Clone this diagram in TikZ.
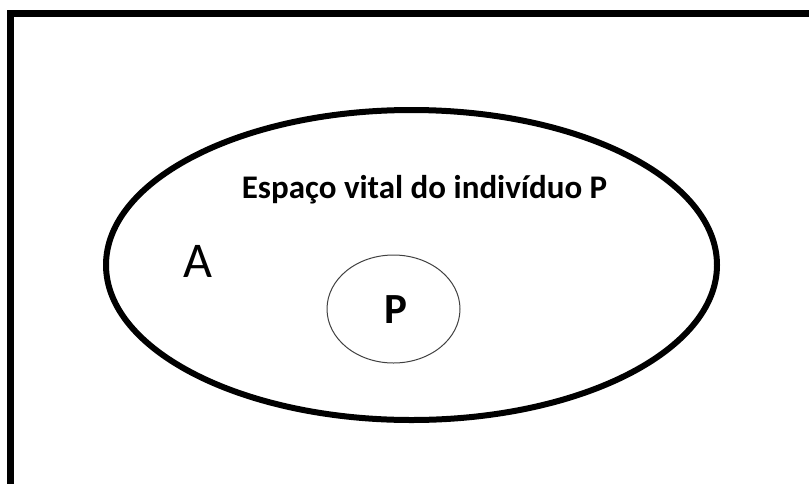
\documentclass[tikz,border=0pt]{standalone}
\usepackage{fontspec}
\setmainfont{Carlito}
\begin{document}
\begin{tikzpicture}[x=1pt,y=-1pt,
  frameline/.style={line width=7pt,line cap=rect},
  bigoval/.style={draw,ellipse,line width=6pt},
  txt/.style={inner sep=0pt,anchor=base}]
\useasboundingbox (0,0) rectangle (809,483);
\coordinate (tr) at (812,13.5);
\coordinate (tl) at (10.5,13.5);
\coordinate (bl) at (10.5,490);
\draw[frameline] (tr) -- (tl) -- (bl);
\draw[line width=6pt] (411.5,265) ellipse [x radius=305.5, y radius=155];
\draw[line width=1pt, black!75] (393.5,309) ellipse [x radius=66.5, y radius=54];
\node[txt,font=\bfseries\fontsize{33}{36}\selectfont] (title) at (424.5,198) {Espaço vital do indivíduo P};
\node[txt,font=\fontsize{50}{54}\selectfont] (a) at (198,277) {A};
\node[txt,font=\bfseries\fontsize{43}{46}\selectfont] (p) at (396,323) {P};
\end{tikzpicture}
\end{document}
